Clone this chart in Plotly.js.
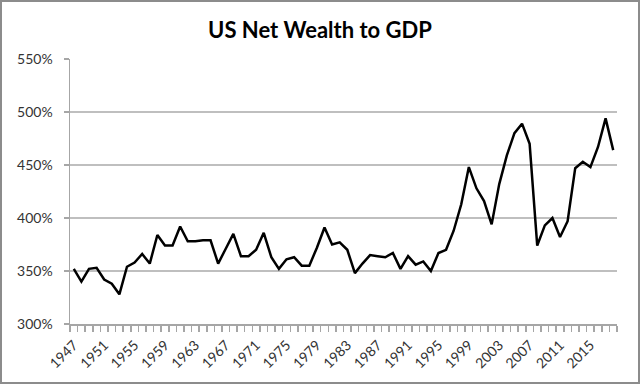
<!DOCTYPE html>
<html>
<head>
<meta charset="utf-8">
<script src="https://cdn.plot.ly/plotly-3.0.1.min.js"></script>
<style>
html,body{margin:0;padding:0;background:#fff;}
#wrap{position:relative;width:640px;height:384px;}
#chart{width:640px;height:384px;}
#frame{position:absolute;left:0;top:0;width:640px;height:384px;box-sizing:border-box;border:2px solid #8c8c8c;pointer-events:none;}
</style>
</head>
<body>
<div id="wrap"><div id="chart"></div><div id="frame"></div></div>
<script>
const years = [];
for (let y = 1947; y <= 2018; y++) years.push(y);

const netWealthToGdp = [
  352, 340, 352, 353, 342, 338, 328, 354, 358, 366,
  357, 384, 374, 374, 392, 378, 378, 379, 379, 357,
  371, 385, 364, 364, 370, 386, 363, 352, 361, 363,
  355, 355, 372, 391, 375, 377, 370, 348, 357, 365,
  364, 363, 367, 352, 364, 356, 359, 350, 367, 370,
  388, 413, 448, 428, 416, 394, 432, 459, 480, 489,
  470, 374, 393, 400, 382, 397, 447, 453, 448, 467,
  494, 464
];

const xTickLabels = ['1947','1951','1955','1959','1963','1967','1971','1975','1979','1983','1987','1991','1995','1999','2003','2007','2011','2015'];
const xTickVals = xTickLabels.map(Number);
const yTickVals = [300, 350, 400, 450, 500, 550];
const yTickLabels = ['300%', '350%', '400%', '450%', '500%', '550%'];

const font = "Lato, 'Open Sans', sans-serif";

Plotly.newPlot('chart', [{
  x: years,
  y: netWealthToGdp,
  type: 'scatter',
  mode: 'lines',
  line: {color: '#000000', width: 2.5},
  hoverinfo: 'skip'
}], {
  width: 640, height: 384,
  margin: {l: 70, r: 23, t: 59, b: 60},
  paper_bgcolor: '#ffffff',
  plot_bgcolor: '#ffffff',
  showlegend: false,
  title: {
    text: '<b>US Net Wealth to GDP</b>',
    font: {family: font, size: 22, color: '#000000'},
    x: 0.5, xanchor: 'center', y: 0.922, yanchor: 'middle'
  },
  xaxis: {
    type: 'linear',
    range: [1946.5, 2018.5],
    tickmode: 'array',
    tickvals: xTickVals,
    ticktext: xTickLabels,
    ticks: '',
    tickangle: -45,
    ticklabelstandoff: 6,
    tickfont: {family: font, size: 14, color: '#333333'},
    showgrid: false,
    zeroline: false,
    showline: true,
    linecolor: '#a6a6a6',
    linewidth: 1.5,
    minor: {tickmode: 'linear', tick0: 1946.5, dtick: 1, ticks: 'outside', ticklen: 6, tickcolor: '#a6a6a6', tickwidth: 1.5, showgrid: false}
  },
  yaxis: {
    range: [300, 550],
    tickmode: 'array',
    tickvals: yTickVals,
    ticktext: yTickLabels,
    ticks: 'outside',
    ticklen: 5,
    tickcolor: '#a6a6a6',
    tickwidth: 1.5,
    ticklabelstandoff: 8,
    tickfont: {family: font, size: 14, color: '#333333'},
    showgrid: true,
    gridcolor: '#bfbfbf',
    gridwidth: 1.5,
    zeroline: false,
    showline: true,
    linecolor: '#a6a6a6',
    linewidth: 1.5
  }
}, {staticPlot: true});
</script>
</body>
</html>
